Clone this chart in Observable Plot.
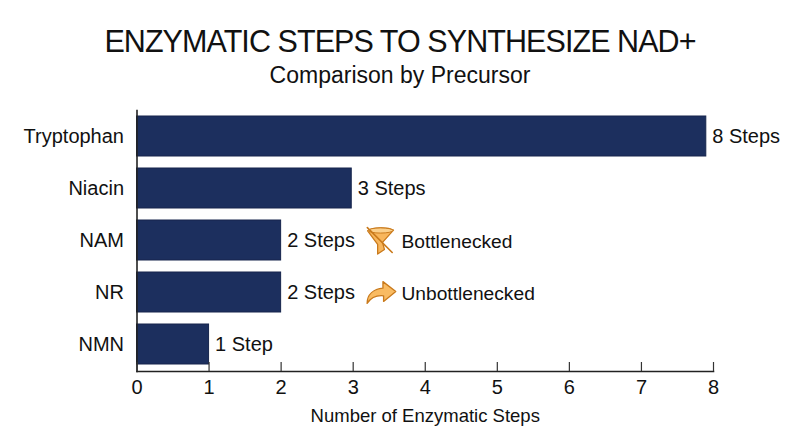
<!DOCTYPE html>
<html>
<head>
<meta charset="utf-8">
<script src="https://cdn.jsdelivr.net/npm/d3@7"></script>
<script src="https://cdn.jsdelivr.net/npm/@observablehq/plot@0.6"></script>
<style>
  html, body { margin: 0; padding: 0; background: #fff; }
  body { width: 800px; height: 447px; overflow: hidden; font-family: "Liberation Sans", Arial, sans-serif; color: #111; }
  #head { height: 100px; text-align: center; position: relative; }
  #title { position: absolute; left: 0; right: 0; top: 22px; font-size: 30.5px; line-height: 38px; white-space: nowrap; letter-spacing: -0.93px; }
  #subtitle { position: absolute; left: 0; right: 0; top: 61px; font-size: 23px; line-height: 28px; white-space: nowrap; }
  svg { display: block; }
</style>
</head>
<body>
<div id="head">
  <div id="title">ENZYMATIC STEPS TO SYNTHESIZE NAD+</div>
  <div id="subtitle">Comparison by Precursor</div>
</div>
<div id="chart"></div>
<script>
const precursors = ["Tryptophan", "Niacin", "NAM", "NR", "NMN"];
const barLengths = [7.9, 2.98, 2, 2, 1];
const stepLabels = ["8 Steps", "3 Steps", "2 Steps", "2 Steps", "1 Step"];
const xTicks = [0, 1, 2, 3, 4, 5, 6, 7, 8];
const noteCategories = ["NAM", "NR"];
const noteTexts = ["Bottlenecked", "Unbottlenecked"];
const noteTextX = [3.67, 3.67];
const noteIconX = [3.38, 3.39];

const svgUri = s => "data:image/svg+xml," + encodeURIComponent(s);
const funnelIcon = svgUri(`<svg xmlns="http://www.w3.org/2000/svg" viewBox="48 30 92 96">
  <path d="M54 48 C70 36 118 36 134 46 L100 84 L106 106 L85 120 L85 90 Z" fill="#f8b65c" stroke="#c97a1c" stroke-width="4" stroke-linejoin="round"/>
  <ellipse cx="94" cy="47" rx="38" ry="8" fill="#fbd08c" stroke="#c97a1c" stroke-width="3"/>
  <path d="M53 38 L130 115" stroke="#c97a1c" stroke-width="5" stroke-linecap="round"/>
</svg>`);
const arrowIcon = svgUri(`<svg xmlns="http://www.w3.org/2000/svg" viewBox="46 198 94 74">
  <path d="M50 268 C50 240 70 225 98 222 L98 202 L137 232 L100 262 L100 245 C80 243 62 250 50 268 Z" fill="#f9bb62" stroke="#c97a1c" stroke-width="4" stroke-linejoin="round"/>
</svg>`);
const noteIcons = [funnelIcon, arrowIcon];
const iconWidths = [30, 31];
const iconHeights = [31, 25];

const bars = precursors.map((name, i) => ({ name, value: barLengths[i], label: stepLabels[i] }));
const notes = noteCategories.map((name, i) => ({
  name, text: noteTexts[i], tx: noteTextX[i], ix: noteIconX[i], icon: noteIcons[i]
}));

const chart = Plot.plot({
  width: 800,
  height: 347,
  marginLeft: 136.5,
  marginRight: 87,
  marginTop: 10,
  marginBottom: 76,
  style: { fontFamily: '"Liberation Sans", Arial, sans-serif', color: "#111", background: "#fff" },
  x: { domain: [0, 8], label: null },
  y: { domain: precursors, label: null, paddingInner: 0.23, paddingOuter: 0.11, align: 0.5 },
  marks: [
    Plot.barX(bars, { x: "value", y: "name", fill: "#1c2f5e", stroke: "#16254c", strokeWidth: 1 }),
    Plot.frame({ anchor: "left", stroke: "#222", strokeWidth: 1.6 }),
    Plot.frame({ anchor: "bottom", stroke: "#222", strokeWidth: 1.6 }),
    Plot.axisY({ tickSize: 0, tickPadding: 13, fontSize: 20, label: null, fill: "#111" }),
    Plot.axisX({ ticks: xTicks, tickSize: -9, tickPadding: 17, fontSize: 20, label: null, stroke: "#333", strokeWidth: 1.2, fill: "#111" }),
    Plot.text(bars, { x: "value", y: "name", text: "label", textAnchor: "start", dx: 6, fontSize: 20, fill: "#111" }),
    Plot.text(notes, { x: "tx", y: "name", text: "text", textAnchor: "start", fontSize: 19.2, fill: "#111", dy: 1 }),
    Plot.image([notes[0]], { x: "ix", y: "name", src: "icon", width: iconWidths[0], height: iconHeights[0] }),
    Plot.image([notes[1]], { x: "ix", y: "name", src: "icon", width: iconWidths[1], height: iconHeights[1] }),
    Plot.text(["Number of Enzymatic Steps"], { frameAnchor: "bottom", dy: 50, text: d => d, fontSize: 18.5, fill: "#111" })
  ]
});
document.getElementById("chart").appendChild(chart);
</script>
</body>
</html>
